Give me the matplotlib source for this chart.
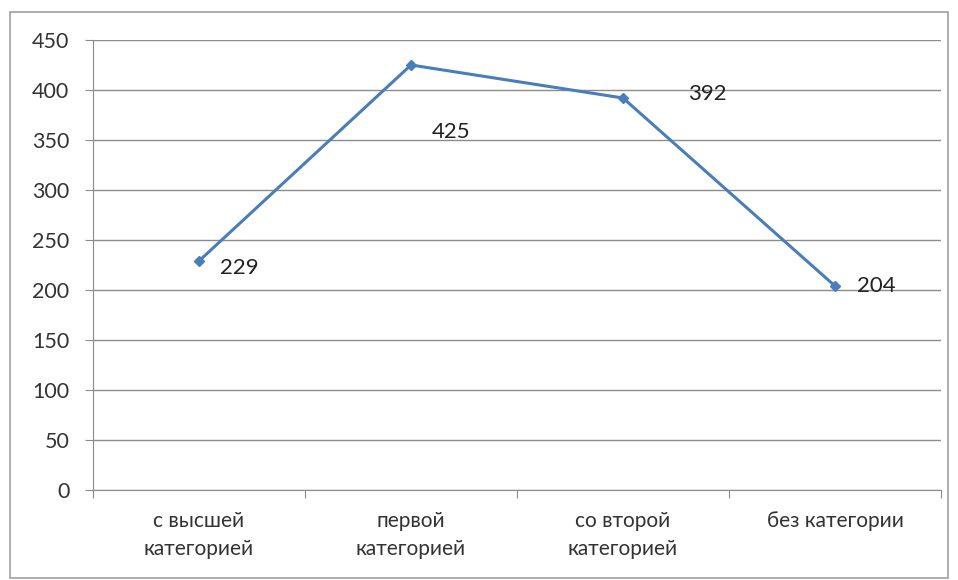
import matplotlib.pyplot as plt
from matplotlib.patches import Rectangle

plt.rcParams['font.family'] = ['Lato', 'DejaVu Sans']

categories = ["с высшей\nкатегорией", "первой\nкатегорией", "со второй\nкатегорией", "без категории"]
values = [229, 425, 392, 204]
# label offsets in points (dx, dy) relative to each point
label_offsets = [(15, -5), (15, -48), (47, 3), (16, 0)]

fig = plt.figure(figsize=(9.58, 5.8), dpi=100)
ax = fig.add_axes([93 / 958, 1 - 490 / 580, 848 / 958, 450 / 580])

x = [i + 0.5 for i in range(len(values))]
ax.plot(x, values, color="#4A7EBB", linewidth=2.2, marker="D", markersize=5, zorder=3)

for xi, v, (dx, dy) in zip(x, values, label_offsets):
    ax.annotate(str(v), (xi, v), xytext=(dx, dy), textcoords="offset points",
                fontsize=16, color="#222222", va="center", ha="left")

ax.set_xlim(0, len(values))
ax.set_ylim(0, 450)
ax.set_yticks(range(0, 451, 50))
ax.yaxis.grid(True, color="#8c8c8c", linewidth=1)
ax.set_axisbelow(True)

ax.set_xticks(range(len(values) + 1))
ax.set_xticklabels([])
ax.set_xticks(x, minor=True)
ax.set_xticklabels(categories, minor=True, fontsize=15, color="#333333", linespacing=1.5)
ax.tick_params(axis="x", which="minor", length=0, pad=15)
ax.tick_params(axis="x", which="major", length=6, color="#8c8c8c")
ax.tick_params(axis="y", length=6, color="#8c8c8c", labelsize=15.5, labelcolor="#333333", pad=11)

for side in ["top", "right"]:
    ax.spines[side].set_visible(False)
ax.spines["left"].set_color("#8c8c8c")
ax.spines["bottom"].set_color("#8c8c8c")

fig.patches.append(Rectangle((10 / 958, 2 / 580), 938 / 958, 566 / 580, transform=fig.transFigure,
                             fill=False, edgecolor="#a0a0a0", linewidth=1.2))

fig.savefig("out.png", dpi=100)
